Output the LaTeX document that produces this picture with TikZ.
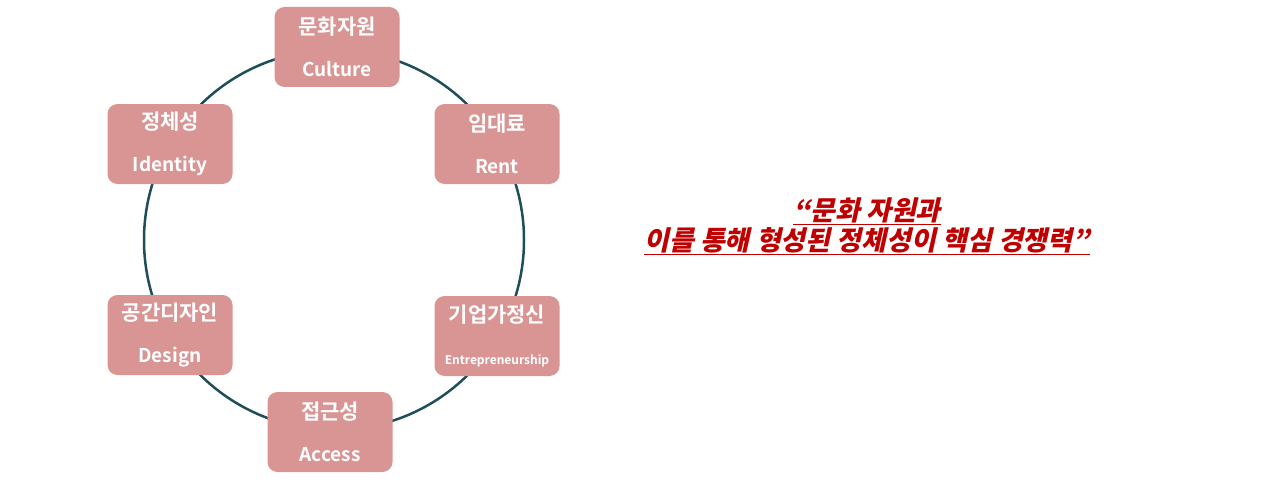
\documentclass[tikz,border=0pt]{standalone}
\usepackage{fontspec}
\setmainfont{Noto Sans CJK KR}[BoldFont={* Bold}]
\newfontfamily\krb{Noto Sans CJK KR Bold}
\newfontfamily\krit{Noto Sans CJK KR Black}[FakeSlant=0.22]
\definecolor{boxfill}{HTML}{D99594}
\definecolor{ringcol}{HTML}{1F4E59}
\definecolor{quotered}{HTML}{C00000}
\newcommand{\kline}[1]{{\fontsize{21}{42}\selectfont #1}}
\newcommand{\eline}[1]{{\fontsize{19}{42}\selectfont #1}}
\begin{document}
\begin{tikzpicture}[x=1pt,y=-1pt,
  topic/.style={draw=none, fill=boxfill, rounded corners=10pt, minimum width=125pt, minimum height=80pt, align=center, text=white, font=\krb\fontsize{19}{42}\selectfont, inner sep=0pt},
  ring/.style={draw=ringcol, line width=2.5pt}]
\useasboundingbox (0,0) rectangle (1280,487);
\fill[white] (0,0) rectangle (1280,487);
\coordinate (c) at (334,240);
\draw[ring] (c) circle[radius=190pt];
\node[topic] (culture) at (337,47) {\kline{문화자원}\\\eline{Culture}};
\node[topic] (rent) at (497,144) {\kline{임대료}\\\eline{Rent}};
\node[topic] (identity) at (170,144) {\kline{정체성}\\\eline{Identity}};
\node[topic] (design) at (170,335) {\kline{공간디자인}\\\eline{Design}};
\node[topic] (entre) at (497,336) {\kline{기업가정신}\\{\fontsize{12}{42}\selectfont Entrepreneurship}};
\node[topic] (access) at (330,432) {\kline{접근성}\\\eline{Access}};
\node[text=quotered, font=\krit\fontsize{27}{30}\selectfont, align=center] (quote) at (867,226)
  {\underline{“문화 자원과}\\\underline{이를 통해 형성된 정체성이 핵심 경쟁력”}};
\end{tikzpicture}
\end{document}
